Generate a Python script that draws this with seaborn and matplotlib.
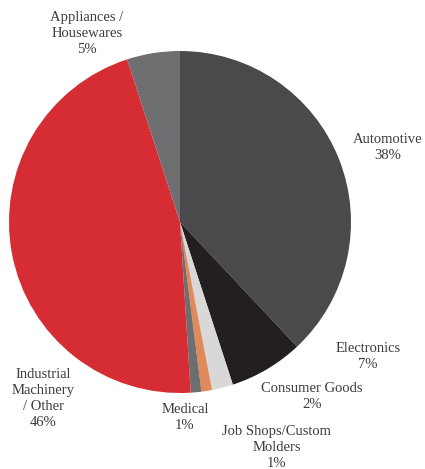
import matplotlib
matplotlib.use("Agg")
import matplotlib.pyplot as plt
import seaborn as sns

sns.set_theme(style="white")
plt.rcParams["font.family"] = ["Liberation Serif", "DejaVu Serif"]

# Market share by end-use segment, clockwise from 12 o'clock
segments = ["Automotive", "Electronics", "Consumer Goods", "Job Shops/Custom Molders",
            "Medical", "Industrial Machinery / Other", "Appliances / Housewares"]
shares = [38, 7, 2, 1, 1, 46, 5]
colors = ["#4a4a4c", "#231f20", "#d8d8d8", "#e0895a", "#6d6e70", "#d62d35", "#6f6f71"]
label_texts = ["Automotive\n38%", "Electronics\n7%", "Consumer Goods\n2%",
               "Job Shops/Custom\nMolders\n1%", "Medical\n1%",
               "Industrial\nMachinery\n/ Other\n46%", "Appliances /\nHousewares\n5%"]
# label anchor points (in pie radii, relative to centre)
label_x = [1.215, 1.10, 0.772, 0.567, 0.029, -0.80, -0.544]
label_y = [0.433, -0.784, -1.018, -1.316, -1.146, -1.03, 1.105]

fig = plt.figure(figsize=(4.25, 4.69), dpi=100)
ax = fig.add_axes([9 / 425, 76 / 469, 342 / 425, 342 / 469])
ax.pie(shares, colors=colors, startangle=90, counterclock=False, radius=1.0,
       wedgeprops=dict(linewidth=0))
ax.set_xlim(-1, 1)
ax.set_ylim(-1, 1)
ax.set_aspect("equal")
ax.axis("off")

for txt, x, y in zip(label_texts, label_x, label_y):
    ax.text(x, y, txt, ha="center", va="center", fontsize=10.5, color="#3c3c3c",
            linespacing=1.3, clip_on=False)

fig.savefig("out.png", dpi=100)
